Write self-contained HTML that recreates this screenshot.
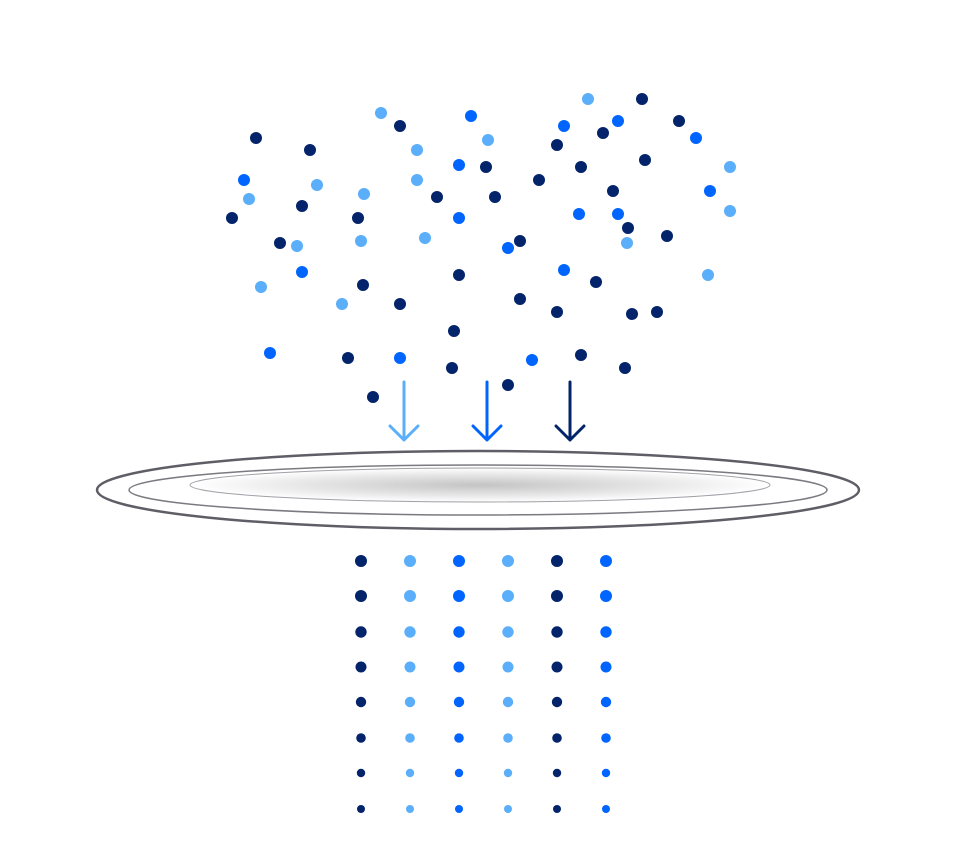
<!DOCTYPE html>
<html><head><meta charset="utf-8"><style>html,body{margin:0;padding:0;background:#fff}svg{display:block}</style></head>
<body>
<svg width="960" height="864" viewBox="0 0 960 864" xmlns="http://www.w3.org/2000/svg">
<defs>
<radialGradient id="g" cx="50%" cy="50%" r="50%">
<stop offset="0" stop-color="#c4c4c4"/>
<stop offset="0.6" stop-color="#e6e6e6"/>
<stop offset="1" stop-color="#ffffff"/>
</radialGradient>
</defs>
<g id="scatter">
<script type="text/plain"></script>
</g>
<g fill="#03246b">
<circle cx="256" cy="138" r="6"/><circle cx="310" cy="150" r="6"/><circle cx="232" cy="218" r="6"/><circle cx="302" cy="206" r="6"/><circle cx="280" cy="243" r="6"/>
<circle cx="400" cy="126" r="6"/><circle cx="358" cy="218" r="6"/><circle cx="437" cy="197" r="6"/><circle cx="363" cy="285" r="6"/><circle cx="400" cy="304" r="6"/>
<circle cx="348" cy="358" r="6"/><circle cx="373" cy="397" r="6"/><circle cx="486" cy="167" r="6"/><circle cx="495" cy="197" r="6"/><circle cx="520" cy="241" r="6"/>
<circle cx="459" cy="275" r="6"/><circle cx="454" cy="331" r="6"/><circle cx="452" cy="368" r="6"/><circle cx="520" cy="299" r="6"/><circle cx="508" cy="385" r="6"/>
<circle cx="642" cy="99" r="6"/><circle cx="557" cy="145" r="6"/><circle cx="603" cy="133" r="6"/><circle cx="679" cy="121" r="6"/><circle cx="539" cy="180" r="6"/>
<circle cx="581" cy="167" r="6"/><circle cx="645" cy="160" r="6"/><circle cx="613" cy="191" r="6"/><circle cx="628" cy="228" r="6"/><circle cx="667" cy="236" r="6"/>
<circle cx="596" cy="282" r="6"/><circle cx="557" cy="312" r="6"/><circle cx="632" cy="314" r="6"/><circle cx="657" cy="312" r="6"/><circle cx="581" cy="355" r="6"/><circle cx="625" cy="368" r="6"/>
</g>
<g fill="#0065ff">
<circle cx="244" cy="180" r="6"/><circle cx="302" cy="272" r="6"/><circle cx="270" cy="353" r="6"/><circle cx="400" cy="358" r="6"/><circle cx="471" cy="116" r="6"/>
<circle cx="459" cy="165" r="6"/><circle cx="459" cy="218" r="6"/><circle cx="508" cy="248" r="6"/><circle cx="532" cy="360" r="6"/><circle cx="564" cy="126" r="6"/>
<circle cx="618" cy="121" r="6"/><circle cx="696" cy="138" r="6"/><circle cx="710" cy="191" r="6"/><circle cx="579" cy="214" r="6"/><circle cx="618" cy="214" r="6"/><circle cx="564" cy="270" r="6"/>
</g>
<g fill="#5aaefa">
<circle cx="249" cy="199" r="6"/><circle cx="317" cy="185" r="6"/><circle cx="297" cy="246" r="6"/><circle cx="261" cy="287" r="6"/><circle cx="381" cy="113" r="6"/>
<circle cx="417" cy="150" r="6"/><circle cx="364" cy="194" r="6"/><circle cx="361" cy="241" r="6"/><circle cx="417" cy="180" r="6"/><circle cx="425" cy="238" r="6"/>
<circle cx="342" cy="304" r="6"/><circle cx="488" cy="140" r="6"/><circle cx="588" cy="99" r="6"/><circle cx="730" cy="167" r="6"/><circle cx="730" cy="211" r="6"/>
<circle cx="627" cy="243" r="6"/><circle cx="708" cy="275" r="6"/>
</g>
<g fill="none" stroke-width="3" stroke-linecap="round" stroke-linejoin="round">
<path d="M404 382 V440 M390 426 L404 440 L418 426" stroke="#5aaefa"/>
<path d="M487 382 V440 M473 426 L487 440 L501 426" stroke="#0065ff"/>
<path d="M570 382 V440 M556 426 L570 440 L584 426" stroke="#03246b"/>
</g>
<ellipse cx="478" cy="490" rx="381" ry="39" fill="#fff" stroke="#5e5e66" stroke-width="2.5"/>
<ellipse cx="478" cy="490" rx="349" ry="25" fill="#fff" stroke="#7a7a80" stroke-width="1.5"/>
<ellipse cx="480" cy="485" rx="290" ry="17" fill="url(#g)" stroke="#a0a0a6" stroke-width="1"/>
<g id="grid"></g>
<g>
<g fill="#03246b">
<circle cx="361" cy="561" r="6"/><circle cx="361" cy="596" r="6"/><circle cx="361" cy="632" r="5.7"/><circle cx="361" cy="667" r="5.5"/><circle cx="361" cy="702" r="5.2"/><circle cx="361" cy="738" r="4.8"/><circle cx="361" cy="773" r="4.2"/><circle cx="361" cy="809" r="4"/>
<circle cx="557" cy="561" r="6"/><circle cx="557" cy="596" r="6"/><circle cx="557" cy="632" r="5.7"/><circle cx="557" cy="667" r="5.5"/><circle cx="557" cy="702" r="5.2"/><circle cx="557" cy="738" r="4.8"/><circle cx="557" cy="773" r="4.2"/><circle cx="557" cy="809" r="4"/>
</g>
<g fill="#5aaefa">
<circle cx="410" cy="561" r="6"/><circle cx="410" cy="596" r="6"/><circle cx="410" cy="632" r="5.7"/><circle cx="410" cy="667" r="5.5"/><circle cx="410" cy="702" r="5.2"/><circle cx="410" cy="738" r="4.8"/><circle cx="410" cy="773" r="4.2"/><circle cx="410" cy="809" r="4"/>
<circle cx="508" cy="561" r="6"/><circle cx="508" cy="596" r="6"/><circle cx="508" cy="632" r="5.7"/><circle cx="508" cy="667" r="5.5"/><circle cx="508" cy="702" r="5.2"/><circle cx="508" cy="738" r="4.8"/><circle cx="508" cy="773" r="4.2"/><circle cx="508" cy="809" r="4"/>
</g>
<g fill="#0065ff">
<circle cx="459" cy="561" r="6"/><circle cx="459" cy="596" r="6"/><circle cx="459" cy="632" r="5.7"/><circle cx="459" cy="667" r="5.5"/><circle cx="459" cy="702" r="5.2"/><circle cx="459" cy="738" r="4.8"/><circle cx="459" cy="773" r="4.2"/><circle cx="459" cy="809" r="4"/>
<circle cx="606" cy="561" r="6"/><circle cx="606" cy="596" r="6"/><circle cx="606" cy="632" r="5.7"/><circle cx="606" cy="667" r="5.5"/><circle cx="606" cy="702" r="5.2"/><circle cx="606" cy="738" r="4.8"/><circle cx="606" cy="773" r="4.2"/><circle cx="606" cy="809" r="4"/>
</g>
</g>
</svg>
</body></html>
